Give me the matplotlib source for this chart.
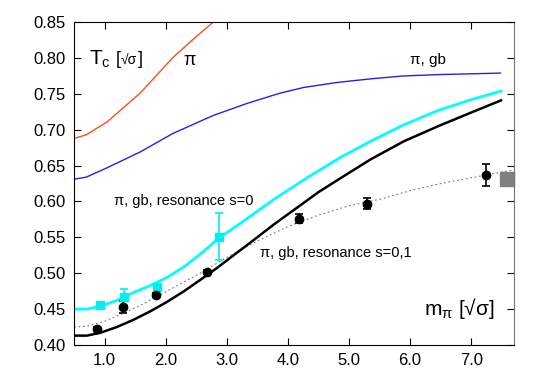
import matplotlib
matplotlib.use('Agg')
import matplotlib.pyplot as plt

plt.rcParams['font.family'] = ['Liberation Sans', 'DejaVu Sans']

# Curves (m_pi, T_c)
x_pi = [0.5, 0.7, 1.04, 1.58, 2.12, 2.5, 2.82]
y_pi = [0.688, 0.693, 0.711, 0.751, 0.801, 0.830, 0.853]

x_gb = [0.5, 0.7, 1.04, 1.58, 2.12, 2.78, 3.34, 3.87, 4.26, 4.81, 5.36, 5.89, 6.5, 7.0, 7.48]
y_gb = [0.631, 0.634, 0.647, 0.669, 0.695, 0.720, 0.737, 0.751, 0.759, 0.766, 0.771, 0.775, 0.777, 0.778, 0.779]

x_s0 = [0.5, 0.71, 0.93, 1.2, 1.47, 1.75, 2.02, 2.3, 2.57, 2.87, 3.23, 3.77, 4.33, 4.87, 5.4, 5.9, 6.46, 7.0, 7.49]
y_s0 = [0.450, 0.450, 0.454, 0.462, 0.473, 0.483, 0.494, 0.509, 0.527, 0.549, 0.570, 0.603, 0.634, 0.662, 0.686, 0.707, 0.727, 0.742, 0.754]

x_s01 = [0.5, 0.71, 0.93, 1.2, 1.47, 1.75, 2.02, 2.3, 2.57, 2.85, 3.11, 3.39, 3.77, 4.16, 4.5, 4.87, 5.36, 5.9, 6.46, 7.0, 7.49]
y_s01 = [0.413, 0.413, 0.417, 0.425, 0.435, 0.447, 0.460, 0.475, 0.491, 0.508, 0.525, 0.543, 0.568, 0.592, 0.613, 0.633, 0.659, 0.684, 0.705, 0.724, 0.741]

x_fit = [0.5, 0.7, 1.0, 1.3, 1.6, 2.0, 2.5, 3.0, 3.5, 4.0, 4.5, 5.0, 5.5, 6.0, 6.5, 7.0, 7.5, 7.7]
y_fit = [0.425, 0.426, 0.433, 0.444, 0.456, 0.474, 0.497, 0.522, 0.545, 0.565, 0.581, 0.594, 0.603, 0.615, 0.625, 0.633, 0.641, 0.644]

# Lattice data
m_black = [0.88, 1.30, 1.84, 2.67, 4.18, 5.30, 7.25]
t_black = [0.422, 0.453, 0.470, 0.502, 0.576, 0.597, 0.637]
e_black = [0.003, 0.008, 0.003, 0.003, 0.006, 0.008, 0.015]

m_cyan = [0.93, 1.31, 1.85, 2.87]
t_cyan = [0.456, 0.467, 0.481, 0.551]
e_cyan = [0.002, 0.011, 0.002, 0.033]

m_grey = [7.58]
t_grey = [0.631]

fig = plt.figure(figsize=(5.45, 3.82), dpi=100)
ax = fig.add_axes([0.136, 0.097, 0.807, 0.845])

ax.plot(x_pi, y_pi, color='#ff4c1a', lw=1.0)
ax.plot(x_gb, y_gb, color='#2222e6', lw=1.0)
ax.plot(x_fit, y_fit, color='0.45', lw=0.8, ls=(0, (1.5, 2.5)))
ax.plot(x_s0, y_s0, color='#00ffff', lw=2.0)
ax.plot(x_s01, y_s01, color='black', lw=1.8)

ax.errorbar(m_cyan, t_cyan, yerr=e_cyan, fmt='s', color='#00f0f0', ms=6,
            capsize=3, elinewidth=1.2, capthick=1.2)
ax.errorbar(m_black, t_black, yerr=e_black, fmt='o', color='black', ms=6,
            capsize=3, elinewidth=1.2, capthick=1.2)
ax.plot(m_grey, t_grey, 's', color='#808080', ms=10.5, clip_on=False)

ax.set_xlim(0.5, 7.7)
ax.set_ylim(0.40, 0.85)
ax.set_xticks([1, 2, 3, 4, 5, 6, 7])
ax.set_xticklabels(['1.0', '2.0', '3.0', '4.0', '5.0', '6.0', '7.0'])
ax.set_yticks([0.40, 0.45, 0.50, 0.55, 0.60, 0.65, 0.70, 0.75, 0.80, 0.85])
ax.set_yticklabels(['%.2f' % v for v in ax.get_yticks()])
ax.tick_params(direction='in', top=True, right=True, labelsize=12, length=5, pad=6)
ax.spines['right'].set_color('0.45')

# T_c [sqrt(sigma)] with a small sqrt(sigma) inside the brackets
ax.text(0.74, 0.798, r'T$_\mathregular{c}$', fontsize=15, va='center')
ax.text(1.18, 0.798, '[', fontsize=13, va='center')
ax.text(1.26, 0.796, '√σ', fontsize=10, va='center')
ax.text(1.55, 0.798, ']', fontsize=13, va='center')

ax.text(2.39, 0.797, 'π', fontsize=13, va='center', ha='center')
ax.text(6.3, 0.797, 'π, gb', fontsize=11, va='center', ha='center')
ax.text(2.3, 0.601, 'π, gb, resonance s=0', fontsize=10.5, va='center', ha='center')
ax.text(4.79, 0.528, 'π, gb, resonance s=0,1', fontsize=10.5, va='center', ha='center')
ax.text(6.80, 0.451, r'$\mathregular{m_\pi}$ [√σ]', fontsize=15, va='center', ha='center')

fig.savefig('out.png', dpi=100)
